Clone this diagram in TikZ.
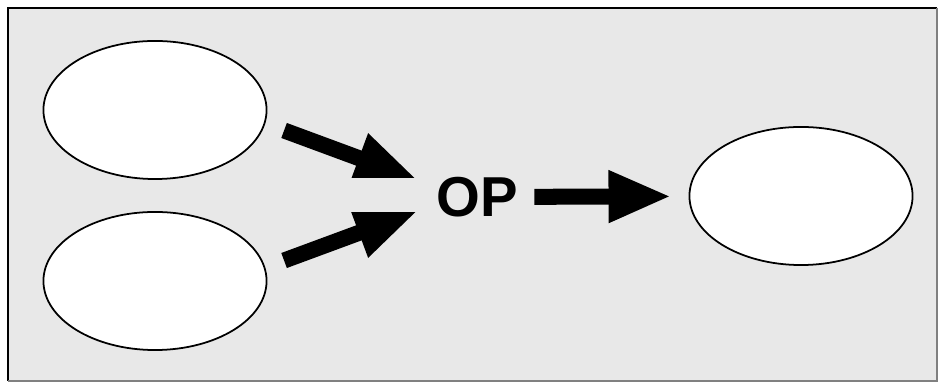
\documentclass[tikz,border=0pt]{standalone}
\usepackage{fontspec}
\setmainfont{Liberation Sans}
\usetikzlibrary{shapes,arrows.meta}
\tikzstyle{blankblock} = [ellipse, minimum width=2.23cm, minimum height=1.38cm, inner sep=0pt, draw=black, line width=0.5pt, fill=white]
\tikzstyle{fatarrow} = [line width=0.16cm, -{Triangle[length=0.63cm,width=0.48cm]}]

\begin{document}
\begin{tikzpicture}[x=0.01cm, y=-0.01cm]
        \useasboundingbox (0,0) rectangle (940,383);
        \fill [gray!18] (8,8) rectangle (937,381);
        \draw [line width=0.6pt] (8,381) -- (8,8) -- (937,8);
        \draw [gray, line width=0.5pt] (937,8) -- (937,381) -- (8,381);

        \node (in1) [blankblock] at (155,110) {};
        \node (in2) [blankblock] at (155,281) {};
        \node (op) [inner sep=0pt] at (477,197) {\fontsize{16}{18}\selectfont\bfseries OP};
        \node (out) [blankblock] at (801,196) {};

        \coordinate (tip1) at (418,180);
        \coordinate (tip2) at (418,211);
        \begin{scope}
            \clip (260,0) rectangle (430,178);
            \draw [fatarrow, shorten <=0.2cm] (in1.-7) -- (tip1);
        \end{scope}
        \begin{scope}
            \clip (260,213) rectangle (430,383);
            \draw [fatarrow, shorten <=0.2cm] (in2.7) -- (tip2);
        \end{scope}
        \draw [fatarrow, shorten <=0.16cm, shorten >=0.17cm] (op) -- (out);
    \end{tikzpicture}
\end{document}
